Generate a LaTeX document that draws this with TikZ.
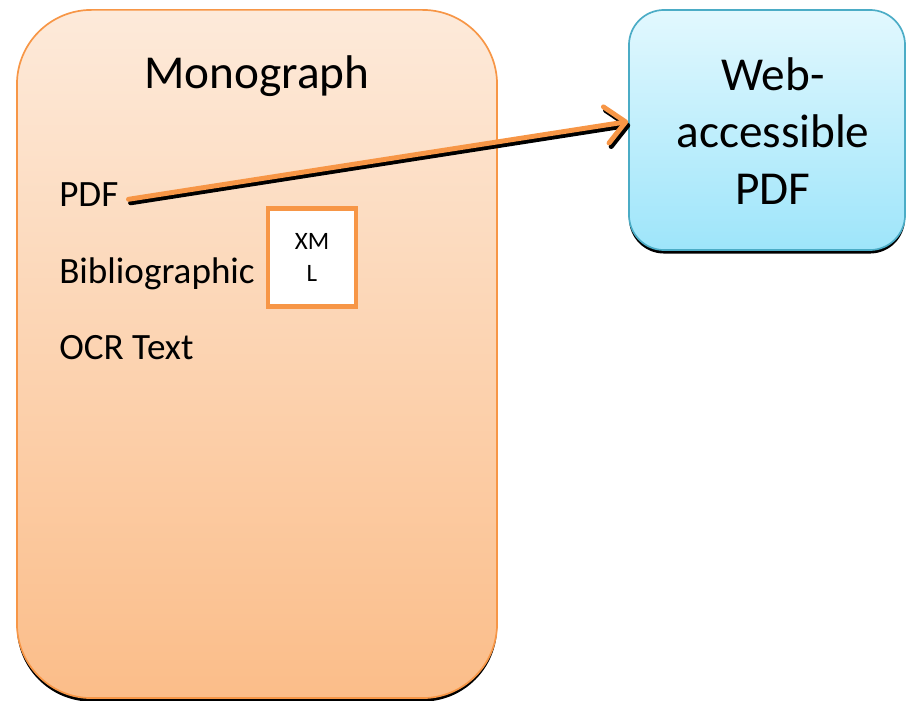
\documentclass[tikz,border=0pt]{standalone}
\usepackage{fontspec}
\setmainfont{Carlito}
\usetikzlibrary{arrows.meta,shadows}

\definecolor{monoline}{RGB}{247,150,70}
\definecolor{monotop}{RGB}{253,234,218}
\definecolor{monobottom}{RGB}{251,189,137}
\definecolor{webline}{RGB}{75,172,198}
\definecolor{webtop}{RGB}{226,248,254}
\definecolor{webbottom}{RGB}{158,229,250}

\begin{document}
\begin{tikzpicture}[
    % one unit is one pixel of the page
    x = 0.025cm,
    y = -0.025cm,
    box/.style = {
      draw,
      line width = 1.2pt,
      rounded corners = #1,
      inner sep = 0pt,
      drop shadow = {shadow xshift = 0pt, shadow yshift = -2.5pt,
                     fill = black, opacity = 1}
    },
    item/.style = {
      anchor = base west,
      inner sep = 0pt,
      font = \fontsize{26.4}{32}\selectfont
    },
    link/.style = {
      line width = 3.5pt,
      line cap = round,
      -{Straight Barb[length = 14pt, width = 26pt, round]}
    }
  ]
  \useasboundingbox (0,0) rectangle (907,701);
  \node[box = 53pt, draw = monoline, top color = monotop,
    bottom color = monobottom, minimum width = 12cm,
    minimum height = 17.2cm] (mono) at (257,354) {};
  \node[box = 25pt, draw = webline, top color = webtop,
    bottom color = webbottom, minimum width = 6.9cm,
    minimum height = 6cm] (web) at (767,130) {};
  \node[align = center, inner sep = 0pt,
    font = \fontsize{33.6}{40.5}\selectfont] (webtext) at (773,131)
    {Web-\\accessible\\PDF};
  \node[anchor = base, font = \fontsize{33.6}{40}\selectfont]
    (monotitle) at (257,89) {Monograph};
  \node[item] (pdf)    at (59,207) {PDF};
  \node[item] (biblio) at (59,284) {Bibliographic};
  \node[item] (ocr)    at (59,360) {OCR Text};
  \node[draw = monoline, line width = 3.5pt, fill = white,
    minimum width = 2.2cm, minimum height = 2.45cm, align = center,
    font = \fontsize{17.8}{22.5}\selectfont] (xml) at (312,257.5)
    {XM\\L};
  \draw[link, black, transform canvas = {shift = {(1.5pt,-2.5pt)}}]
    ([xshift = 7pt, yshift = -3pt]pdf.east) -- ([yshift = 6pt]web.west);
  \draw[link, monoline]
    ([xshift = 7pt, yshift = -3pt]pdf.east) -- ([yshift = 6pt]web.west);
\end{tikzpicture}
\end{document}
